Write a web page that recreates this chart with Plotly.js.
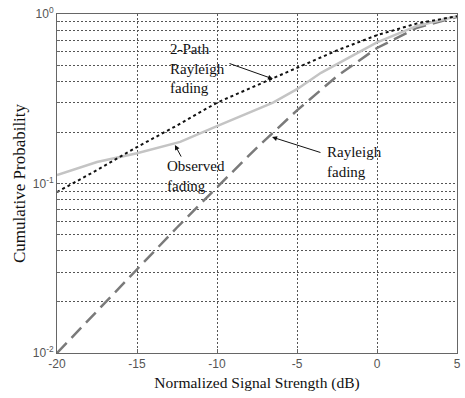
<!DOCTYPE html>
<html><head><meta charset="utf-8">
<script src="https://cdn.plot.ly/plotly-3.0.1.min.js"></script>
<style>html,body{margin:0;padding:0;background:#fff}#c{width:465px;height:398px}</style>
</head><body><div id="c"></div>
<script>
const xVals = [-20, -17.5, -15, -12.5, -10, -7.5, -5, -2.5, 0, 2.5, 5];
const rayleigh = [0.01, 0.0177, 0.031, 0.055, 0.095, 0.163, 0.27, 0.43, 0.63, 0.83, 0.96];
const twoPath = [0.089, 0.12, 0.164, 0.22, 0.30, 0.38, 0.48, 0.61, 0.75, 0.88, 0.97];
const obsX = [-20, -17.5, -15, -12.3, -10, -8.5, -6.5, -5, -3.5, -1.5, 0, 2.5, 5];
const observed = [0.112, 0.134, 0.151, 0.176, 0.218, 0.25, 0.30, 0.36, 0.45, 0.57, 0.68, 0.85, 0.97];
const xTicks = [-20, -15, -10, -5, 0, 5];
const yTickVals = [0.01,0.02,0.03,0.04,0.05,0.06,0.07,0.08,0.09,0.1,0.2,0.3,0.4,0.5,0.6,0.7,0.8,0.9,1];
const yTickText = ['10<sup>-2</sup>','','','','','','','','','10<sup>-1</sup>','','','','','','','','','10<sup>0</sup>'];

const traces = [
  {x: xVals, y: rayleigh, mode:'lines', line:{color:'#7a7a7a', width:2.5, dash:'14px,7px'}},
  {x: obsX, y: observed, mode:'lines', line:{color:'#c4c4c4', width:2.5}},
  {x: xVals, y: twoPath, mode:'lines', line:{color:'#111', width:2, dash:'dot'}}
];
const annFont = {family:'Liberation Serif, serif', size:15, color:'#111'};
const arrow = {showarrow:true, text:'', arrowhead:2, arrowsize:1, arrowwidth:1, arrowcolor:'#111', axref:'x', ayref:'y', xref:'x', yref:'y'};
const layout = {
  width:465, height:398,
  margin:{l:57, r:8, t:14, b:45},
  paper_bgcolor:'#fff', plot_bgcolor:'#fff',
  showlegend:false,
  xaxis:{range:[-20,5], tickvals:xTicks, ticktext:xTicks.map(String),
    showgrid:true, gridcolor:'#555', griddash:'2px,2px', gridwidth:1,
    showline:true, linecolor:'#666', linewidth:1, mirror:true,
    ticks:'inside', ticklen:4, tickcolor:'#666', zeroline:false,
    tickfont:{family:'Liberation Sans, Arial, sans-serif', size:12, color:'#555'},
    title:{text:'Normalized Signal Strength (dB)', font:{family:'Liberation Serif, serif', size:15.5, color:'#111'}, standoff:6}},
  yaxis:{type:'log', range:[-2,0], tickvals:yTickVals, ticktext:yTickText,
    showgrid:true, gridcolor:'#555', griddash:'2px,2px', gridwidth:1,
    showline:true, linecolor:'#666', linewidth:1, mirror:true,
    ticks:'inside', ticklen:3, tickcolor:'#666', zeroline:false,
    tickfont:{family:'Liberation Sans, Arial, sans-serif', size:12, color:'#555'},
    title:{text:'Cumulative Probability', font:{family:'Liberation Serif, serif', size:17, color:'#111'}, standoff:2}},
  annotations:[
    {x:-13.06, y:-0.319, xref:'x', yref:'y', text:'2-Path<br>Rayleigh<br>fading', showarrow:false,
     font:annFont, align:'left', xanchor:'left', yanchor:'middle', bgcolor:'rgba(255,255,255,0)'},
    Object.assign({x:-6.5, y:-0.383, ax:-9.31, ay:-0.289}, arrow),
    {x:-13.25, y:-0.956, xref:'x', yref:'y', text:'Observed<br>fading', showarrow:false,
     font:annFont, align:'left', xanchor:'left', yanchor:'middle'},
    Object.assign({x:-12.63, y:-0.773, ax:-12.19, ay:-0.85}, arrow),
    {x:-3.25, y:-0.873, xref:'x', yref:'y', text:'Rayleigh<br>fading', showarrow:false,
     font:annFont, align:'left', xanchor:'left', yanchor:'middle'},
    Object.assign({x:-6.56, y:-0.726, ax:-3.44, ay:-0.82}, arrow)
  ]
};
Plotly.newPlot('c', traces, layout, {displayModeBar:false, staticPlot:true});
</script></body></html>
